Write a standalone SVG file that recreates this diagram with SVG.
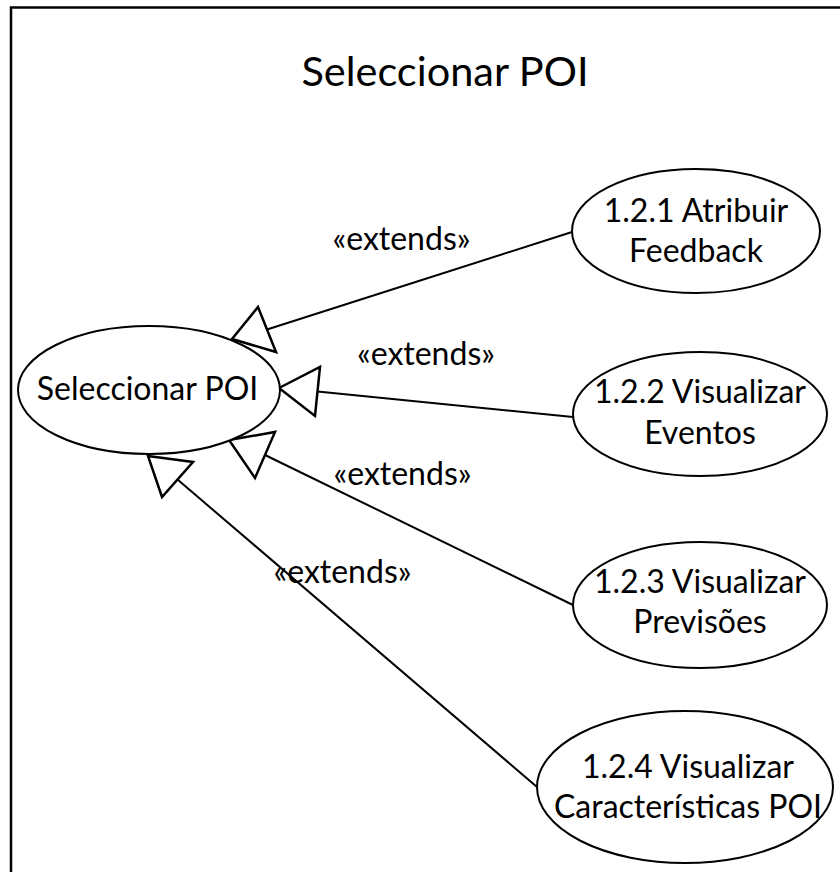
<svg xmlns="http://www.w3.org/2000/svg" width="840" height="872" viewBox="0 0 840 872">
<style>
.uc{fill:#fff;stroke:#000;stroke-width:2}
.t{font-family:Lato,"Open Sans","DejaVu Sans",sans-serif;font-size:32px;fill:#000;text-anchor:middle}
.title{font-size:41.5px}
.ln{stroke:#000;stroke-width:2;fill:none}
.ah{fill:#fff;stroke:#000;stroke-width:2.5;stroke-linejoin:miter}
</style>
<rect width="840" height="872" fill="#fff"/>
<path d="M11,872 V7.5 H840" fill="none" stroke="#000" stroke-width="2.5"/>
<text class="t title" x="445" y="86">Seleccionar POI</text>
<g id="connectors">
<line class="ln" x1="572" y1="232" x2="267" y2="329.5"/>
<polygon class="ah" points="232,339 258,307 276,352"/>
<line class="ln" x1="573" y1="417" x2="317.5" y2="391.5"/>
<polygon class="ah" points="279,388 320,367 315,416"/>
<line class="ln" x1="573" y1="605" x2="265" y2="455"/>
<polygon class="ah" points="229,440 275,432 255,478"/>
<line class="ln" x1="537" y1="787" x2="177.5" y2="479.5"/>
<polygon class="ah" points="148,456 193,462 162,497"/>
<text class="t" x="401.5" y="250">«extends»</text>
<text class="t" x="426" y="365">«extends»</text>
<text class="t" x="402.5" y="485">«extends»</text>
<text class="t" x="342.5" y="583">«extends»</text>
</g>
<g id="main">
<ellipse class="uc" cx="149" cy="390" rx="131" ry="64"/>
<text class="t" x="147.5" y="400">Seleccionar POI</text>
</g>
<g id="uc121">
<ellipse class="uc" cx="696" cy="231" rx="124" ry="62"/>
<text class="t" x="696" y="222">1.2.1 Atribuir</text>
<text class="t" x="696" y="262">Feedback</text>
</g>
<g id="uc122">
<ellipse class="uc" cx="700" cy="414" rx="127" ry="62"/>
<text class="t" x="700" y="403">1.2.2 Visualizar</text>
<text class="t" x="700" y="444">Eventos</text>
</g>
<g id="uc123">
<ellipse class="uc" cx="700" cy="605" rx="127" ry="63"/>
<text class="t" x="700" y="593">1.2.3 Visualizar</text>
<text class="t" x="700" y="633">Previsões</text>
</g>
<g id="uc124">
<ellipse class="uc" cx="685" cy="787" rx="148" ry="76"/>
<text class="t" x="688" y="778">1.2.4 Visualizar</text>
<text class="t" x="688" y="818">Características POI</text>
</g>
</svg>
